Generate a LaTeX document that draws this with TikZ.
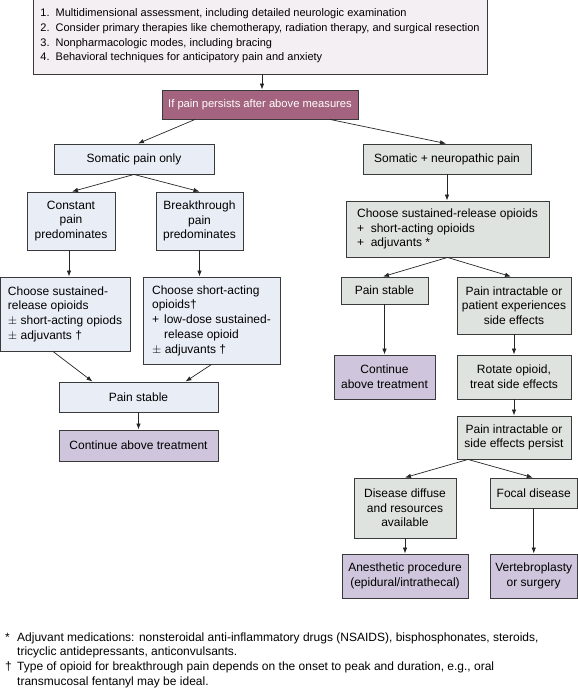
\documentclass[tikz,border=0pt]{standalone}
\usepackage{fontspec}
\setmainfont{Liberation Sans}
\usetikzlibrary{arrows.meta,calc}
\definecolor{topc}{HTML}{F4EFF2}
\definecolor{magc}{HTML}{A4637F}
\definecolor{leftc}{HTML}{E9EDF6}
\definecolor{rightc}{HTML}{DFE3DF}
\definecolor{purpc}{HTML}{CFC5DC}
\definecolor{bordc}{HTML}{3A3A3A}
\tikzset{
  box/.style={draw=bordc, line width=0.9pt, inner sep=0pt, align=center,
    font=\fontsize{12}{14.7}\selectfont},
  topbox/.style={box, fill=topc, align=left, font=\fontsize{11}{14.7}\selectfont},
  magbox/.style={box, fill=magc, text=white, font=\fontsize{11.2}{14.7}\selectfont},
  lbox/.style={box, fill=leftc},
  rbox/.style={box, fill=rightc},
  pbox/.style={box, fill=purpc},
  arr/.style={-{Latex[length=6pt,width=4.5pt]}, line width=0.7pt, draw=black!85},
  note/.style={inner sep=0pt, align=left, font=\fontsize{12}{14.7}\selectfont},
}
\begin{document}
\begin{tikzpicture}[x=1pt,y=-1pt]
\useasboundingbox (0,0) rectangle (578,689);
% top
\node[topbox, minimum width=454pt, minimum height=76pt] (top) at (260,36)
 {1.\ \ Multidimensional assessment, including detailed neurologic examination\\
  2.\ \ Consider primary therapies like chemotherapy, radiation therapy, and surgical resection\\
  3.\ \ Nonpharmacologic modes, including bracing\\
  4.\ \ Behavioral techniques for anticipatory pain and anxiety};
\node[magbox, minimum width=196pt, minimum height=29pt] (pers) at (260,104.5) {If pain persists after above measures};
% left branch
\node[lbox, minimum width=160pt, minimum height=30pt] (soma) at (134,159) {Somatic pain only};
\node[lbox, minimum width=88pt, minimum height=58pt] (const) at (71,221) {Constant\\pain\\predominates};
\node[lbox, minimum width=87pt, minimum height=58pt] (brk) at (199.5,221) {Breakthrough\\pain\\predominates};
\node[lbox, align=left, minimum width=130pt, minimum height=74pt] (chsus) at (65,314)
 {Choose sustained-\\release opioids\\$\pm$ short-acting opiods\\$\pm$ adjuvants †};
\node[lbox, align=left, minimum width=137pt, minimum height=87pt] (chshort) at (211.5,320.5)
 {Choose short-acting\\opioids†\\\makebox[12pt][l]{+}low-dose sustained-\\\hspace*{12pt}release opioid\\$\pm$ adjuvants †};
\node[lbox, minimum width=159pt, minimum height=30pt] (stabL) at (138.5,397) {Pain stable};
\node[pbox, minimum width=159pt, minimum height=31pt] (contL) at (138.5,445.5) {Continue above treatment};
% right branch
\node[rbox, minimum width=168pt, minimum height=30pt] (neuro) at (447,159) {Somatic + neuropathic pain};
\node[rbox, align=left, minimum width=203pt, minimum height=56pt] (chR) at (447.5,229)
 {Choose sustained-release opioids\\+\ \ short-acting opioids\\+\ \ adjuvants *};
\node[rbox, minimum width=87pt, minimum height=27pt] (stabR) at (384.5,290.5) {Pain stable};
\node[rbox, minimum width=114pt, minimum height=57pt] (intR) at (514,305.5) {Pain intractable or\\patient experiences\\side effects};
\node[pbox, minimum width=101pt, minimum height=44pt] (contR) at (384.5,377) {Continue\\above treatment};
\node[rbox, minimum width=114pt, minimum height=44pt] (rot) at (514,377) {Rotate opioid,\\treat side effects};
\node[rbox, minimum width=114pt, minimum height=43pt] (persist) at (514,437.5) {Pain intractable or\\side effects persist};
\node[rbox, minimum width=102pt, minimum height=60pt] (diff) at (405,508) {Disease diffuse\\and resources\\available};
\node[rbox, minimum width=87.5pt, minimum height=30pt] (focal) at (533.75,493) {Focal disease};
\node[pbox, minimum width=126pt, minimum height=44pt] (anest) at (405,576) {Anesthetic procedure\\(epidural/intrathecal)};
\node[pbox, minimum width=87.5pt, minimum height=44pt] (vert) at (533.75,576) {Vertebroplasty\\or surgery};
% connectors
\draw[arr] ([xshift=2pt]top.south) -- ([xshift=2pt]pers.north);
\draw[arr] ([xshift=-65pt]pers.south) -- ([xshift=4pt]soma.north);
\draw[arr] ([xshift=70pt]pers.south) -- ([xshift=-1pt]neuro.north);
\draw[arr] (soma.south) -- ([xshift=1pt]const.north);
\draw[arr] (soma.south) -- (brk.north);
\draw[arr] ([xshift=-2pt]const.south) -- ([xshift=-2pt]const.south |- chsus.north);
\draw[arr] (brk.south) -- (brk.south |- chshort.north);
\draw[arr] ([xshift=-12pt]chsus.south) -- ([xshift=-46pt]stabL.north);
\draw[arr] (chshort.south) -- ([xshift=47pt]stabL.north);
\draw[arr] (stabL) -- (contL);
\draw[arr] (neuro) -- (neuro.south |- chR.north);
\draw[arr] (chR.south) -- ([xshift=-1.5pt]stabR.north);
\draw[arr] (chR.south) -- ([xshift=-3pt]intR.north);
\draw[arr] (stabR) -- (contR);
\draw[arr] (intR) -- (rot);
\draw[arr] (rot) -- (persist);
\draw[arr] ([xshift=-46pt]persist.south) -- (diff.north);
\draw[arr] ([xshift=-46pt]persist.south) -- ([xshift=-1pt]focal.north);
\draw[arr] (diff) -- (anest);
\draw[arr] (focal) -- (vert);
% footnotes
\node[note, anchor=west] (fn) at (5,660)
 {\makebox[12pt][l]{*}Adjuvant medications: nonsteroidal anti-inflammatory drugs (NSAIDS), bisphosphonates, steroids,\\
  \hspace*{12pt}tricyclic antidepressants, anticonvulsants.\\
  \makebox[12pt][l]{†}Type of opioid for breakthrough pain depends on the onset to peak and duration, e.g., oral\\
  \hspace*{12pt}transmucosal fentanyl may be ideal.};
\end{tikzpicture}
\end{document}
